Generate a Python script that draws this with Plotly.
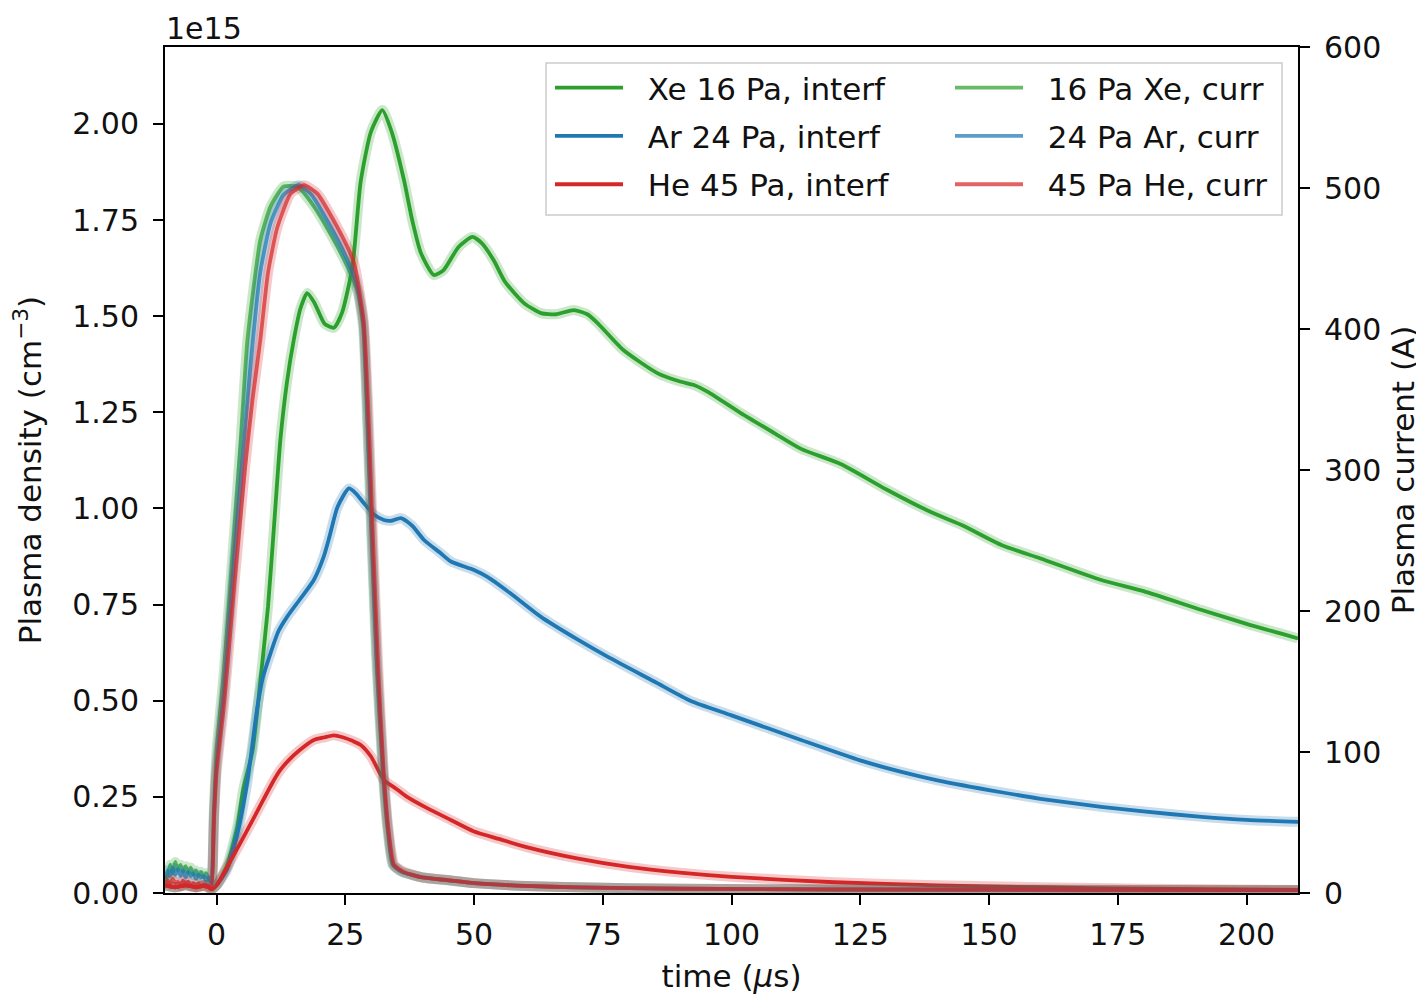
import plotly.graph_objects as go

# ---------------- data (density in units of 1e15 cm^-3, current in A) ----------------
t_xe_int = [-10, -8, -6, -4, -2, -1, 0, 2, 4, 5.2, 7, 8.5, 10, 11.2, 12.4, 13.7, 15, 16.3, 17.6, 19,
            21, 22.8, 24.4, 26.4, 28, 30, 32.2, 34, 36.4, 38, 39.7, 42.2, 44.1, 47, 49.7, 51.5, 53.8,
            56, 59.7, 63, 66, 69.4, 72, 74, 79, 85.6, 90, 92.7, 95.4, 101.8, 108.3, 113.5, 121.3,
            130, 138.8, 145, 152.4, 160, 171.8, 180, 191.3, 200, 210]
d_xe_int = [0.02, 0.015, 0.02, 0.015, 0.02, 0.01, 0.02, 0.07, 0.17, 0.27, 0.37, 0.55, 0.744, 0.96,
            1.178, 1.33, 1.438, 1.52, 1.56, 1.535, 1.48, 1.47, 1.51, 1.63, 1.85, 1.98, 2.036, 1.98,
            1.854, 1.75, 1.664, 1.607, 1.62, 1.68, 1.706, 1.69, 1.646, 1.59, 1.534, 1.508, 1.505,
            1.516, 1.505, 1.482, 1.412, 1.352, 1.33, 1.321, 1.303, 1.248, 1.196, 1.155, 1.115,
            1.05, 0.99, 0.955, 0.905, 0.87, 0.814, 0.785, 0.736, 0.70, 0.662]

t_ar_int = [-10, -8, -6, -4, -2, -1, 0, 2, 4, 6, 7.9, 9, 10.5, 12, 13.7, 16, 18.9, 20.8, 22, 23.5,
            25.7, 27, 28.6, 30.5, 32.5, 34, 35.8, 38, 40.3, 43.5, 45.5, 50, 52.6, 57, 63, 70, 76,
            85, 92, 100, 113.5, 125, 133, 140, 152.4, 160, 171.8, 180, 191.3, 200, 210]
d_ar_int = [0.02, 0.015, 0.02, 0.015, 0.02, 0.01, 0.02, 0.06, 0.15, 0.29, 0.48, 0.56, 0.624, 0.68,
            0.718, 0.76, 0.814, 0.874, 0.93, 1.004, 1.052, 1.04, 1.014, 0.985, 0.97, 0.968, 0.975,
            0.955, 0.918, 0.884, 0.862, 0.84, 0.822, 0.78, 0.718, 0.66, 0.614, 0.55, 0.50, 0.462,
            0.398, 0.345, 0.315, 0.293, 0.262, 0.245, 0.224, 0.212, 0.198, 0.19, 0.185]

t_he_int = [-10, -8, -6, -4, -2, -1, 0, 3, 6, 9, 11, 12.4, 14, 16, 18.9, 21, 22.8, 24.5, 26.5, 28,
            30, 32.5, 35, 37, 41, 45.5, 50, 55, 60, 70, 80, 90, 100, 120, 140, 160, 180, 210]
d_he_int = [0.02, 0.015, 0.02, 0.015, 0.02, 0.01, 0.02, 0.09, 0.164, 0.24, 0.29, 0.32, 0.345, 0.37,
            0.398, 0.405, 0.41, 0.405, 0.395, 0.385, 0.355, 0.294, 0.27, 0.25, 0.22, 0.19, 0.16,
            0.14, 0.12, 0.09, 0.068, 0.053, 0.042, 0.028, 0.02, 0.015, 0.011, 0.008]

t_xe_cur = [-10, -9.5, -9, -8.5, -8, -7.5, -7, -6.5, -6, -5.5, -5, -4.5, -4, -3.5, -3, -2.5, -2,
            -1.5, -1, -0.5, 0, 1.4, 3.3, 4.7, 6, 8.5, 10.5, 13, 15.7, 18.9, 22.8, 26, 27.5, 28.5,
            29.2, 30.1, 31.1, 32.2, 33.2, 34.2, 36, 40, 45, 50, 60, 70, 90, 120, 210]
i_xe_cur = [8, 12, 20, 14, 22, 16, 20, 15, 19, 14, 18, 13, 16, 12, 15, 11, 14, 10, 8, 60, 100, 156,
            250, 321, 392, 463, 487, 501, 501, 487, 463, 440, 425, 400, 340, 250, 160, 90, 45, 20,
            15, 11, 9, 7, 5, 4, 3, 2.5, 2]

t_ar_cur = [-10, -9.5, -9, -8.5, -8, -7.5, -7, -6.5, -6, -5.5, -5, -4.5, -4, -3.5, -3, -2.5, -2,
            -1.5, -1, -0.5, 0, 1.5, 3.5, 5, 6.5, 8.5, 10.5, 13, 16, 18.5, 21, 24, 27, 28.5, 29.3,
            30.2, 31.2, 32.3, 33.3, 34.3, 36, 40, 45, 50, 60, 70, 90, 120, 210]
i_ar_cur = [10, 16, 12, 18, 13, 17, 12, 16, 11, 15, 12, 14, 10, 13, 11, 12, 9, 11, 7, 55, 90, 145,
            240, 305, 370, 440, 475, 495, 502, 495, 480, 460, 435, 405, 340, 250, 160, 90, 45, 20,
            15, 11, 9, 7, 5, 4, 3, 2.5, 2]

t_he_cur = [-10, -9.5, -9, -8.5, -8, -7.5, -7, -6.5, -6, -5.5, -5, -4.5, -4, -3.5, -3, -2.5, -2,
            -1.5, -1, -0.5, 0, 1.5, 3.5, 5.5, 7, 8.5, 10, 11.8, 14.4, 17, 19.6, 23.5, 26.7, 28.6,
            29.5, 30.4, 31.4, 32.4, 33.4, 34.5, 36.4, 40, 45.5, 50, 60, 70, 90, 120, 210]
i_he_cur = [5, 9, 6, 10, 7, 8, 5, 9, 6, 8, 5, 7, 4, 7, 5, 6, 4, 5, 4, 50, 85, 135, 220, 300, 350,
            392, 440, 472, 496, 502, 496, 472, 447, 405, 340, 250, 160, 90, 45, 20, 15, 11, 9, 7,
            5, 4, 3, 2.5, 2]

x_ticks = [0, 25, 50, 75, 100, 125, 150, 175, 200]
y_ticks = [0, 0.25, 0.5, 0.75, 1.0, 1.25, 1.5, 1.75, 2.0]
y2_ticks = [0, 100, 200, 300, 400, 500, 600]

GREEN = (44, 160, 44)
BLUE = (31, 119, 180)
RED = (214, 39, 40)


def rgba(c, a):
    return f"rgba({c[0]},{c[1]},{c[2]},{a})"


FONT = "DejaVu Sans"
FS_TICK = 30
FS = 31
NB = "\u00a0\u00a0"
fig = go.Figure()

interf = [
    ("Xe 16 Pa, interf", t_xe_int, d_xe_int, GREEN, "g1"),
    ("Ar 24 Pa, interf", t_ar_int, d_ar_int, BLUE, "g2"),
    ("He 45 Pa, interf", t_he_int, d_he_int, RED, "g3"),
]
curr = [
    ("16 Pa Xe, curr", t_xe_cur, i_xe_cur, GREEN, "g4"),
    ("24 Pa Ar, curr", t_ar_cur, i_ar_cur, BLUE, "g5"),
    ("45 Pa He, curr", t_he_cur, i_he_cur, RED, "g6"),
]

for name, t, d, c, grp in interf:
    fig.add_trace(go.Scatter(x=t, y=d, mode="lines", yaxis="y", showlegend=False, hoverinfo="skip",
                             line=dict(color=rgba(c, 0.25), width=10, shape="spline", smoothing=0.6)))
    fig.add_trace(go.Scatter(x=t, y=d, mode="lines", yaxis="y", name=NB + name, legendgroup=grp,
                             legend="legend",
                             line=dict(color=rgba(c, 1.0), width=3.8, shape="spline", smoothing=0.6)))

for name, t, i, c, grp in curr:
    fig.add_trace(go.Scatter(x=t, y=i, mode="lines", yaxis="y2", showlegend=False, hoverinfo="skip",
                             line=dict(color=rgba(c, 0.25), width=10, shape="spline", smoothing=0.5)))
    fig.add_trace(go.Scatter(x=t, y=i, mode="lines", yaxis="y2", name=NB + name, legendgroup=grp,
                             legend="legend2",
                             line=dict(color=rgba(c, 0.72), width=3.8, shape="spline", smoothing=0.5)))

axis_common = dict(showline=True, linecolor="black", linewidth=2, ticks="outside", ticklen=10,
                   tickwidth=2, tickcolor="black", showgrid=False, zeroline=False, automargin=False,
                   tickfont=dict(family=FONT, size=FS_TICK, color="#111"))

# page body adds an 8 px offset; plot area on screen: x 165..1298, y 47..893
OFF = 8
PW, PH = 1133.0, 846.0


def px(x):
    return (x - 165) / PW


def py(y):
    return (893 - y) / PH


legend_common = dict(orientation="v", xanchor="left", yanchor="top", bgcolor="rgba(0,0,0,0)",
                     borderwidth=0, traceorder="grouped", tracegroupgap=5, itemwidth=68,
                     font=dict(family=FONT, size=FS, color="#111"))

fig.update_layout(
    width=1424 - OFF, height=996 - OFF,
    margin=dict(l=165 - OFF, r=126, t=47 - OFF, b=103),
    paper_bgcolor="white", plot_bgcolor="white",
    font=dict(family=FONT, size=FS, color="#111"),
    xaxis=dict(range=[-10, 210], tickvals=x_ticks, mirror=True,
               title=dict(text="time (<i>μ</i>s)", font=dict(family=FONT, size=FS), standoff=14),
               ticklabelstandoff=4, **axis_common),
    yaxis=dict(range=[0, 2.2], tickvals=y_ticks, tickformat=".2f",
               title=dict(text="Plasma density (cm<sup>−3</sup>)", font=dict(family=FONT, size=FS),
                          standoff=22),
               ticklabelstandoff=8, **axis_common),
    yaxis2=dict(range=[0, 600], tickvals=y2_ticks, overlaying="y", side="right",
                title=dict(text="Plasma current (A)", font=dict(family=FONT, size=FS), standoff=12),
                ticklabelstandoff=8, **axis_common),
    legend=dict(x=px(550), y=py(61), **legend_common),
    legend2=dict(x=px(950), y=py(61), **legend_common),
    shapes=[dict(type="rect", xref="paper", yref="paper", x0=px(546), x1=px(1282),
                 y0=py(215), y1=py(63), layer="above",
                 fillcolor="rgba(255,255,255,0.8)", line=dict(color="#cccccc", width=1.5))],
    annotations=[dict(text="1e15", xref="paper", yref="paper", x=0, y=py(28), xanchor="left",
                      yanchor="middle", showarrow=False, borderpad=0,
                      font=dict(family=FONT, size=FS_TICK, color="#111"))],
)

fig.write_html("out.html")
